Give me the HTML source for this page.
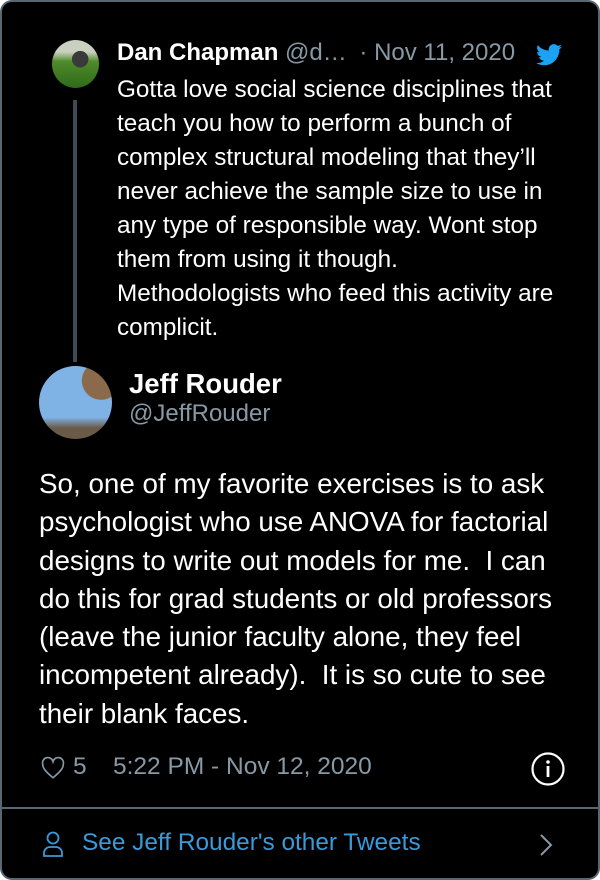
<!DOCTYPE html>
<html><head><meta charset="utf-8"><style>
*{margin:0;padding:0;box-sizing:border-box}
body{width:600px;height:880px;background:#fff;font-family:"Liberation Sans",Arial,sans-serif;overflow:hidden}
.card{position:absolute;left:0;top:0;width:600px;height:880px;background:#000;border:2px solid #5b6770;border-radius:12px;overflow:hidden}
.abs{position:absolute;white-space:nowrap}
.q{color:#fff;font-size:24.3px;line-height:34px}
.m{color:#fff;font-size:27.8px;line-height:38.3px}
</style></head><body>
<div class="card">
  <div class="abs" style="left:50px;top:38px;width:47px;height:48px;border-radius:50%;background:radial-gradient(circle at 60% 40%,#3a3a3a 0 20%,transparent 21%),linear-gradient(#c9d0c0 0 25%,#4f8a2a 45%,#2f6a1a)"></div>
  <div class="abs" style="left:71px;top:98px;width:4px;height:262px;background:#3d4a57"></div>
  <div class="abs" style="left:115px;top:36px;font-size:24px;line-height:30px;color:#fff"><b>Dan Chapman</b> <span style="color:#8899a6">@d…</span> <span style="color:#8899a6;margin-left:6px">· Nov 11, 2020</span></div>
  <svg class="abs" style="left:534px;top:42px" width="26" height="22" viewBox="0 0 24 20"><path fill="#1da1f2" d="M24 2.4a10 10 0 0 1-2.8.8A5 5 0 0 0 23.3.4a10 10 0 0 1-3.1 1.2A4.9 4.9 0 0 0 11.8 6 14 14 0 0 1 1.7.9a4.9 4.9 0 0 0 1.5 6.6A4.9 4.9 0 0 1 1 6.9 4.9 4.9 0 0 0 4.9 11.8a4.9 4.9 0 0 1-2.2.1 4.9 4.9 0 0 0 4.6 3.4A9.9 9.9 0 0 1 0 17.3 14 14 0 0 0 7.5 19.5c9 0 14-7.5 14-14v-.6A10 10 0 0 0 24 2.4z"/></svg>
  <div class="abs q" style="left:115px;top:71px">Gotta love social science disciplines that<br>teach you how to perform a bunch of<br>complex structural modeling that they’ll<br>never achieve the sample size to use in<br>any type of responsible way. Wont stop<br>them from using it though.<br>Methodologists who feed this activity are<br>complicit.</div>
  <div class="abs" style="left:37px;top:364px;width:73px;height:73px;border-radius:50%;background:radial-gradient(circle at 85% 20%,#8a6a4a 0 22%,transparent 23%),linear-gradient(#7fb3e6 0 70%,#6a5a48 85%)"></div>
  <div class="abs" style="left:127px;top:366px;font-size:27.5px;font-weight:bold;color:#fff">Jeff Rouder</div>
  <div class="abs" style="left:127px;top:398px;font-size:24px;color:#8899a6">@JeffRouder</div>
  <div class="abs m" style="left:37px;top:463px">So, one of my favorite exercises is to ask<br>psychologist who use ANOVA for factorial<br>designs to write out models for me.&nbsp; I can<br>do this for grad students or old professors<br>(leave the junior faculty alone, they feel<br>incompetent already).&nbsp; It is so cute to see<br>their blank faces.</div>
  <svg class="abs" style="left:38px;top:753px" width="26" height="26" viewBox="0 0 24 24"><path fill="none" stroke="#8899a6" stroke-width="1.5" d="M12 21C6 16 2.5 12.5 2.5 8.5A4.8 4.8 0 0 1 12 6a4.8 4.8 0 0 1 9.5 2.5C21.5 12.5 18 16 12 21z"/></svg>
  <div class="abs" style="left:71px;top:751px;font-size:24.5px;color:#8899a6">5</div>
  <div class="abs" style="left:111px;top:751px;font-size:24.5px;color:#8899a6">5:22 PM - Nov 12, 2020</div>
  <svg class="abs" style="left:528px;top:749px" width="36" height="36"><circle cx="18" cy="18" r="15.5" fill="none" stroke="#fff" stroke-width="2.2"/><circle cx="18" cy="11" r="1.8" fill="#fff"/><rect x="16.6" y="15" width="2.8" height="11" fill="#fff"/></svg>
  <div class="abs" style="left:0;top:805px;width:600px;height:2px;background:#5b6770"></div>
  <svg class="abs" style="left:40px;top:828px" width="22" height="28" viewBox="0 0 22 28"><circle cx="11" cy="8" r="5.5" fill="none" stroke="#3a9ad9" stroke-width="1.8"/><path d="M2 26v-3a6 6 0 0 1 6-6h6a6 6 0 0 1 6 6v3z" fill="none" stroke="#3a9ad9" stroke-width="1.8"/></svg>
  <div class="abs" style="left:80px;top:827px;font-size:24.4px;color:#3a9ad9">See Jeff Rouder's other Tweets</div>
  <svg class="abs" style="left:536px;top:831px" width="16" height="24"><path d="M3 2l10 10-10 10" fill="none" stroke="#8899a6" stroke-width="2"/></svg>
</div>
</body></html>
